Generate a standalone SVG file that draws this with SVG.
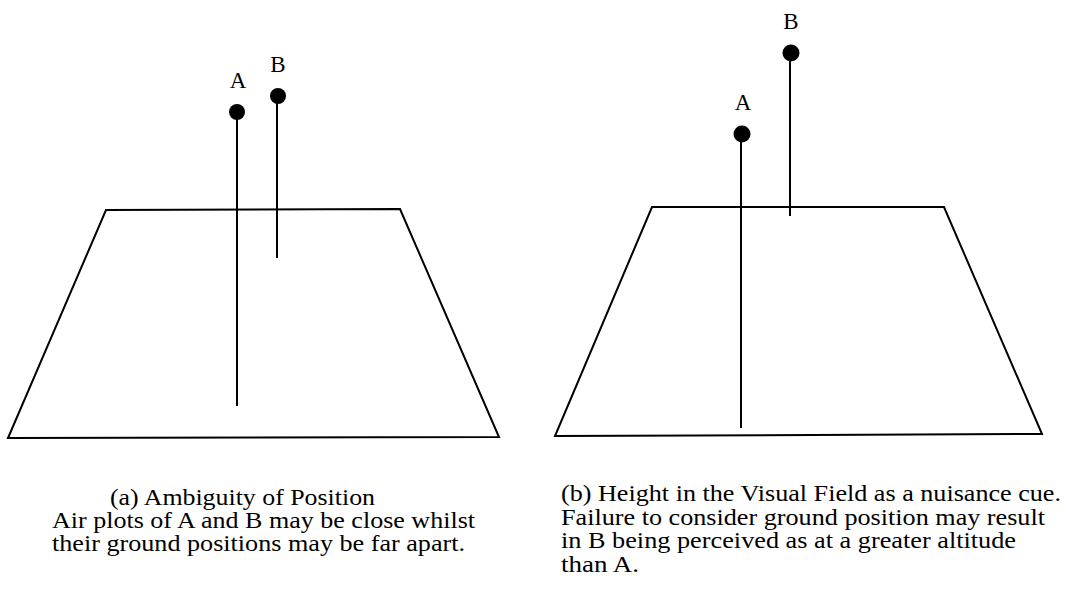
<svg xmlns="http://www.w3.org/2000/svg" width="1066" height="610" viewBox="0 0 1066 610">
<style>
.ln{stroke:#000;stroke-width:2;fill:none;stroke-linejoin:miter}
.pole{stroke:#000;stroke-width:2}
.dot{fill:#000}
.lbl{font-family:"Liberation Serif","Times New Roman",serif;font-size:23px;fill:#000;text-anchor:middle}
.cap{font-family:"Liberation Serif","Times New Roman",serif;font-size:22.5px;fill:#000}
</style>
<rect width="1066" height="610" fill="#fff"/>
<g id="ground-a"><polygon class="ln" points="106,210 400,209 499,437 8,438"/></g>
<g id="ground-b"><polygon class="ln" points="652,207 944,207 1042,434 555,436"/></g>
<g id="connectors">
<line class="pole" x1="237" y1="112" x2="237" y2="406"/>
<line class="pole" x1="277" y1="96" x2="277" y2="258"/>
<line class="pole" x1="741" y1="134" x2="741" y2="428"/>
<line class="pole" x1="790" y1="53" x2="790" y2="216"/>
</g>
<g id="plot-a-left"><circle class="dot" cx="237" cy="112" r="8"/><text class="lbl" x="238" y="88">A</text></g>
<g id="plot-b-left"><circle class="dot" cx="278" cy="96" r="8"/><text class="lbl" x="278" y="72">B</text></g>
<g id="plot-a-right"><circle class="dot" cx="742" cy="134" r="8.5"/><text class="lbl" x="743" y="110">A</text></g>
<g id="plot-b-right"><circle class="dot" cx="791" cy="53" r="8.5"/><text class="lbl" x="791" y="29">B</text></g>
<g id="caption-a">
<text class="cap" x="110" y="505" textLength="265" lengthAdjust="spacingAndGlyphs">(a) Ambiguity of Position</text>
<text class="cap" x="52" y="528" textLength="423" lengthAdjust="spacingAndGlyphs">Air plots of A and B may be close whilst</text>
<text class="cap" x="52" y="551" textLength="413" lengthAdjust="spacingAndGlyphs">their ground positions may be far apart.</text>
</g>
<g id="caption-b">
<text class="cap" x="561" y="501" textLength="500" lengthAdjust="spacingAndGlyphs">(b) Height in the Visual Field as a nuisance cue.</text>
<text class="cap" x="561" y="525" textLength="484" lengthAdjust="spacingAndGlyphs">Failure to consider ground position may result</text>
<text class="cap" x="561" y="548" textLength="455" lengthAdjust="spacingAndGlyphs">in B being perceived as at a greater altitude</text>
<text class="cap" x="561" y="572" textLength="78" lengthAdjust="spacingAndGlyphs">than A.</text>
</g>
</svg>
